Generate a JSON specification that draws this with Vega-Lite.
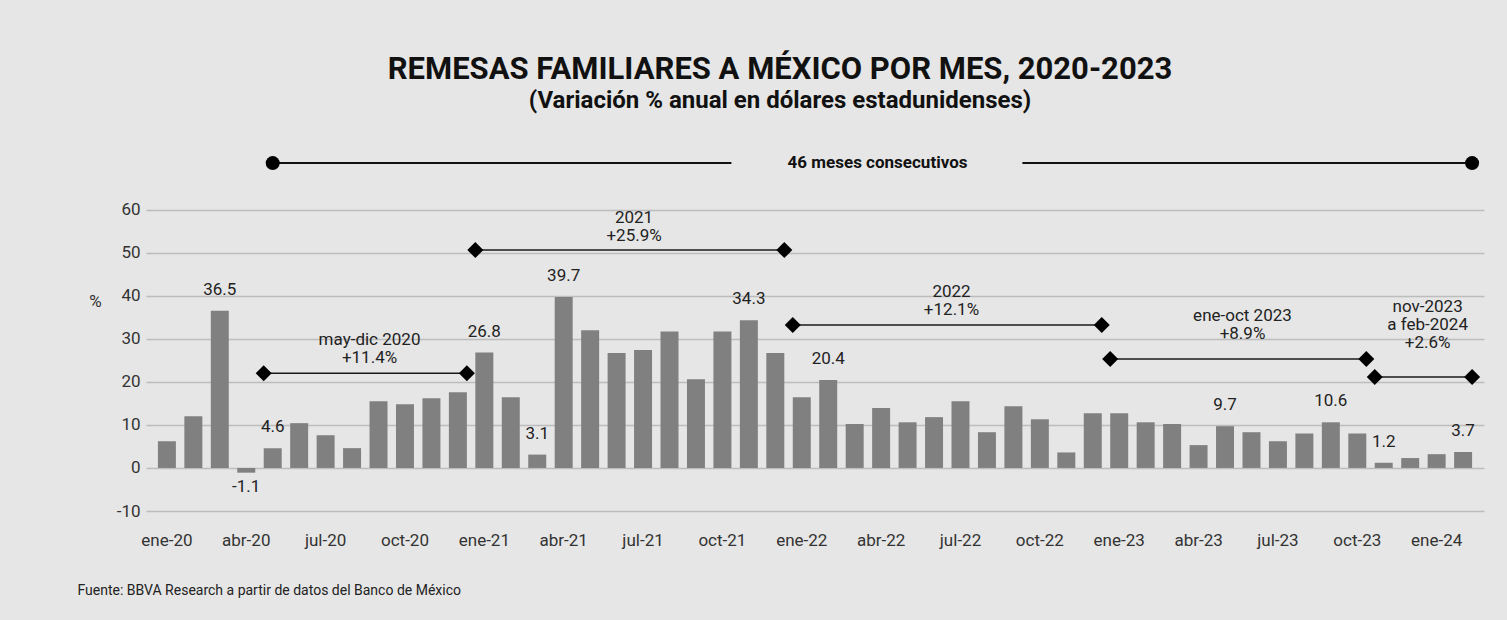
{
  "$schema": "https://vega.github.io/schema/vega-lite/v6.json",
  "width": 1338,
  "height": 366,
  "autosize": {"type": "none"},
  "padding": {"left": 146, "top": 145, "right": 23, "bottom": 109},
  "background": "#e6e6e6",
  "config": {
    "font": "Roboto",
    "view": {"stroke": null},
    "locale": {"number": {"decimal": ".", "thousands": ",", "grouping": [3], "currency": ["$", ""], "minus": "-"}}
  },
  "title": {
    "text": "REMESAS FAMILIARES A MÉXICO POR MES, 2020-2023",
    "subtitle": "(Variación % anual en dólares estadunidenses)",
    "anchor": "middle",
    "frame": "group",
    "dx": -35,
    "offset": 31,
    "font": "Roboto",
    "fontSize": 31,
    "fontWeight": "bold",
    "color": "#111111",
    "subtitleFont": "Roboto",
    "subtitleFontSize": 24,
    "subtitleFontWeight": "bold",
    "subtitleColor": "#111111",
    "subtitlePadding": 3
  },
  "data": {
    "values": [
      {"mes": "ene-20", "valor": 6.2, "rotulo": false},
      {"mes": "feb-20", "valor": 12.0, "rotulo": false},
      {"mes": "mar-20", "valor": 36.5, "rotulo": true},
      {"mes": "abr-20", "valor": -1.1, "rotulo": true},
      {"mes": "may-20", "valor": 4.6, "rotulo": true},
      {"mes": "jun-20", "valor": 10.4, "rotulo": false},
      {"mes": "jul-20", "valor": 7.6, "rotulo": false},
      {"mes": "ago-20", "valor": 4.6, "rotulo": false},
      {"mes": "sep-20", "valor": 15.5, "rotulo": false},
      {"mes": "oct-20", "valor": 14.8, "rotulo": false},
      {"mes": "nov-20", "valor": 16.2, "rotulo": false},
      {"mes": "dic-20", "valor": 17.6, "rotulo": false},
      {"mes": "ene-21", "valor": 26.8, "rotulo": true},
      {"mes": "feb-21", "valor": 16.4, "rotulo": false},
      {"mes": "mar-21", "valor": 3.1, "rotulo": true},
      {"mes": "abr-21", "valor": 39.7, "rotulo": true},
      {"mes": "may-21", "valor": 32.0, "rotulo": false},
      {"mes": "jun-21", "valor": 26.7, "rotulo": false},
      {"mes": "jul-21", "valor": 27.4, "rotulo": false},
      {"mes": "ago-21", "valor": 31.7, "rotulo": false},
      {"mes": "sep-21", "valor": 20.6, "rotulo": false},
      {"mes": "oct-21", "valor": 31.7, "rotulo": false},
      {"mes": "nov-21", "valor": 34.3, "rotulo": true},
      {"mes": "dic-21", "valor": 26.7, "rotulo": false},
      {"mes": "ene-22", "valor": 16.4, "rotulo": false},
      {"mes": "feb-22", "valor": 20.4, "rotulo": true},
      {"mes": "mar-22", "valor": 10.2, "rotulo": false},
      {"mes": "abr-22", "valor": 13.9, "rotulo": false},
      {"mes": "may-22", "valor": 10.6, "rotulo": false},
      {"mes": "jun-22", "valor": 11.8, "rotulo": false},
      {"mes": "jul-22", "valor": 15.5, "rotulo": false},
      {"mes": "ago-22", "valor": 8.3, "rotulo": false},
      {"mes": "sep-22", "valor": 14.3, "rotulo": false},
      {"mes": "oct-22", "valor": 11.3, "rotulo": false},
      {"mes": "nov-22", "valor": 3.6, "rotulo": false},
      {"mes": "dic-22", "valor": 12.7, "rotulo": false},
      {"mes": "ene-23", "valor": 12.7, "rotulo": false},
      {"mes": "feb-23", "valor": 10.6, "rotulo": false},
      {"mes": "mar-23", "valor": 10.2, "rotulo": false},
      {"mes": "abr-23", "valor": 5.3, "rotulo": false},
      {"mes": "may-23", "valor": 9.7, "rotulo": true},
      {"mes": "jun-23", "valor": 8.3, "rotulo": false},
      {"mes": "jul-23", "valor": 6.2, "rotulo": false},
      {"mes": "ago-23", "valor": 8.0, "rotulo": false},
      {"mes": "sep-23", "valor": 10.6, "rotulo": true},
      {"mes": "oct-23", "valor": 8.0, "rotulo": false},
      {"mes": "nov-23", "valor": 1.2, "rotulo": true},
      {"mes": "dic-23", "valor": 2.3, "rotulo": false},
      {"mes": "ene-24", "valor": 3.2, "rotulo": false},
      {"mes": "feb-24", "valor": 3.7, "rotulo": true}
    ]
  },
  "layer": [
    {
      "mark": {"type": "bar", "color": "#808080"},
      "encoding": {
        "x": {
          "field": "mes",
          "type": "ordinal",
          "scale": {
            "domain": ["ene-20","feb-20","mar-20","abr-20","may-20","jun-20","jul-20","ago-20","sep-20","oct-20","nov-20","dic-20","ene-21","feb-21","mar-21","abr-21","may-21","jun-21","jul-21","ago-21","sep-21","oct-21","nov-21","dic-21","ene-22","feb-22","mar-22","abr-22","may-22","jun-22","jul-22","ago-22","sep-22","oct-22","nov-22","dic-22","ene-23","feb-23","mar-23","abr-23","may-23","jun-23","jul-23","ago-23","sep-23","oct-23","nov-23","dic-23","ene-24","feb-24"],
            "paddingInner": 0.32,
            "paddingOuter": 0.45
          },
          "axis": {
            "values": ["ene-20","abr-20","jul-20","oct-20","ene-21","abr-21","jul-21","oct-21","ene-22","abr-22","jul-22","oct-22","ene-23","abr-23","jul-23","oct-23","ene-24"],
            "labelAngle": 0,
            "labelFontSize": 17,
            "labelColor": "#333333",
            "labelPadding": 21,
            "ticks": false,
            "domain": false,
            "grid": false,
            "title": "Fuente: BBVA Research a partir de datos del Banco de México",
            "titleFontSize": 14,
            "titleFontWeight": "normal",
            "titleColor": "#222222",
            "titleAnchor": "start",
            "titleAlign": "left",
            "titleBaseline": "middle",
            "titleX": -69,
            "titleY": 79
          }
        },
        "y": {
          "field": "valor",
          "type": "quantitative",
          "scale": {"domain": [-10, 75], "nice": false, "zero": false},
          "axis": {
            "values": [-10, 0, 10, 20, 30, 40, 50, 60],
            "labelFontSize": 17,
            "labelColor": "#333333",
            "labelPadding": 6,
            "ticks": false,
            "domain": false,
            "grid": true,
            "gridColor": "#bdbdbd",
            "gridWidth": 1.5,
            "title": "%",
            "titleAngle": 0,
            "titleFontSize": 17,
            "titleFontWeight": "normal",
            "titleColor": "#333333",
            "titleAlign": "center",
            "titleBaseline": "middle",
            "titleX": -51,
            "titleY": 156
          }
        }
      }
    },
    {
      "transform": [{"filter": "datum.rotulo && datum.valor >= 0"}],
      "mark": {"type": "text", "baseline": "middle", "dy": -21, "fontSize": 17, "color": "#222222", "font": "Roboto"},
      "encoding": {
        "x": {"field": "mes", "type": "ordinal"},
        "y": {"field": "valor", "type": "quantitative"},
        "text": {"field": "valor", "type": "quantitative", "format": ".1f"}
      }
    },
    {
      "transform": [{"filter": "datum.rotulo && datum.valor < 0"}],
      "mark": {"type": "text", "baseline": "middle", "dy": 14, "fontSize": 17, "color": "#222222", "font": "Roboto"},
      "encoding": {
        "x": {"field": "mes", "type": "ordinal"},
        "y": {"field": "valor", "type": "quantitative"},
        "text": {"field": "valor", "type": "quantitative", "format": ".1f"}
      }
    },
    {
      "data": {"values": [{"desde": "may-20", "corte1": "oct-21", "corte2": "sep-22", "hasta": "feb-24", "centro": "abr-22", "texto": "46 meses consecutivos"}]},
      "encoding": {"y": {"datum": 70.8, "type": "quantitative"}},
      "layer": [
        {"mark": {"type": "rule", "color": "#111111", "strokeWidth": 2}, "encoding": {"x": {"field": "desde", "type": "ordinal", "bandPosition": 0.5}, "x2": {"field": "corte1", "bandPosition": 1}}},
        {"mark": {"type": "rule", "color": "#111111", "strokeWidth": 2}, "encoding": {"x": {"field": "corte2", "type": "ordinal", "bandPosition": 1}, "x2": {"field": "hasta", "bandPosition": 1}}},
        {"mark": {"type": "point", "shape": "circle", "filled": true, "opacity": 1, "size": 196, "color": "#000000"}, "encoding": {"x": {"field": "desde", "type": "ordinal", "bandPosition": 0.5}}},
        {"mark": {"type": "point", "shape": "circle", "filled": true, "opacity": 1, "size": 196, "color": "#000000"}, "encoding": {"x": {"field": "hasta", "type": "ordinal", "bandPosition": 1}}},
        {"mark": {"type": "text", "fontSize": 17, "fontWeight": "bold", "color": "#111111", "baseline": "middle", "font": "Roboto"}, "encoding": {"x": {"field": "centro", "type": "ordinal", "bandPosition": 0.3}, "text": {"field": "texto"}}}
      ]
    },
    {
      "data": {"values": [{"desde": "may-20", "hasta": "dic-20", "centro": "sep-20", "texto": ["may-dic 2020", "+11.4%"]}]},
      "layer": [
        {"mark": {"type": "rule", "color": "#1a1a1a", "strokeWidth": 1.5}, "encoding": {"x": {"field": "desde", "type": "ordinal", "bandPosition": 0}, "x2": {"field": "hasta", "bandPosition": 1}, "y": {"datum": 22, "type": "quantitative"}}},
        {"mark": {"type": "point", "shape": "diamond", "filled": true, "opacity": 1, "size": 256, "color": "#000000"}, "encoding": {"x": {"field": "desde", "type": "ordinal", "bandPosition": 0}, "y": {"datum": 22, "type": "quantitative"}}},
        {"mark": {"type": "point", "shape": "diamond", "filled": true, "opacity": 1, "size": 256, "color": "#000000"}, "encoding": {"x": {"field": "hasta", "type": "ordinal", "bandPosition": 1}, "y": {"datum": 22, "type": "quantitative"}}},
        {"mark": {"type": "text", "fontSize": 17, "color": "#222222", "baseline": "middle", "lineHeight": 18, "font": "Roboto"}, "encoding": {"x": {"field": "centro", "type": "ordinal", "bandPosition": 0}, "y": {"datum": 29.7, "type": "quantitative"}, "text": {"field": "texto"}}}
      ]
    },
    {
      "data": {"values": [{"desde": "ene-21", "hasta": "dic-21", "centro": "jul-21", "texto": ["2021", "+25.9%"]}]},
      "layer": [
        {"mark": {"type": "rule", "color": "#1a1a1a", "strokeWidth": 1.5}, "encoding": {"x": {"field": "desde", "type": "ordinal", "bandPosition": 0}, "x2": {"field": "hasta", "bandPosition": 1}, "y": {"datum": 50.6, "type": "quantitative"}}},
        {"mark": {"type": "point", "shape": "diamond", "filled": true, "opacity": 1, "size": 256, "color": "#000000"}, "encoding": {"x": {"field": "desde", "type": "ordinal", "bandPosition": 0}, "y": {"datum": 50.6, "type": "quantitative"}}},
        {"mark": {"type": "point", "shape": "diamond", "filled": true, "opacity": 1, "size": 256, "color": "#000000"}, "encoding": {"x": {"field": "hasta", "type": "ordinal", "bandPosition": 1}, "y": {"datum": 50.6, "type": "quantitative"}}},
        {"mark": {"type": "text", "fontSize": 17, "color": "#222222", "baseline": "middle", "lineHeight": 18, "font": "Roboto"}, "encoding": {"x": {"field": "centro", "type": "ordinal", "bandPosition": 0}, "y": {"datum": 58.1, "type": "quantitative"}, "text": {"field": "texto"}}}
      ]
    },
    {
      "data": {"values": [{"desde": "ene-22", "hasta": "dic-22", "centro": "jul-22", "texto": ["2022", "+12.1%"]}]},
      "layer": [
        {"mark": {"type": "rule", "color": "#1a1a1a", "strokeWidth": 1.5}, "encoding": {"x": {"field": "desde", "type": "ordinal", "bandPosition": 0}, "x2": {"field": "hasta", "bandPosition": 1}, "y": {"datum": 33.2, "type": "quantitative"}}},
        {"mark": {"type": "point", "shape": "diamond", "filled": true, "opacity": 1, "size": 256, "color": "#000000"}, "encoding": {"x": {"field": "desde", "type": "ordinal", "bandPosition": 0}, "y": {"datum": 33.2, "type": "quantitative"}}},
        {"mark": {"type": "point", "shape": "diamond", "filled": true, "opacity": 1, "size": 256, "color": "#000000"}, "encoding": {"x": {"field": "hasta", "type": "ordinal", "bandPosition": 1}, "y": {"datum": 33.2, "type": "quantitative"}}},
        {"mark": {"type": "text", "fontSize": 17, "color": "#222222", "baseline": "middle", "lineHeight": 18, "font": "Roboto"}, "encoding": {"x": {"field": "centro", "type": "ordinal", "bandPosition": 0}, "y": {"datum": 40.8, "type": "quantitative"}, "text": {"field": "texto"}}}
      ]
    },
    {
      "data": {"values": [{"desde": "ene-23", "hasta": "oct-23", "centro": "jun-23", "texto": ["ene-oct 2023", "+8.9%"]}]},
      "layer": [
        {"mark": {"type": "rule", "color": "#1a1a1a", "strokeWidth": 1.5}, "encoding": {"x": {"field": "desde", "type": "ordinal", "bandPosition": 0}, "x2": {"field": "hasta", "bandPosition": 1}, "y": {"datum": 25.3, "type": "quantitative"}}},
        {"mark": {"type": "point", "shape": "diamond", "filled": true, "opacity": 1, "size": 256, "color": "#000000"}, "encoding": {"x": {"field": "desde", "type": "ordinal", "bandPosition": 0}, "y": {"datum": 25.3, "type": "quantitative"}}},
        {"mark": {"type": "point", "shape": "diamond", "filled": true, "opacity": 1, "size": 256, "color": "#000000"}, "encoding": {"x": {"field": "hasta", "type": "ordinal", "bandPosition": 1}, "y": {"datum": 25.3, "type": "quantitative"}}},
        {"mark": {"type": "text", "fontSize": 17, "color": "#222222", "baseline": "middle", "lineHeight": 18, "font": "Roboto"}, "encoding": {"x": {"field": "centro", "type": "ordinal", "bandPosition": 0}, "y": {"datum": 35.4, "type": "quantitative"}, "text": {"field": "texto"}}}
      ]
    },
    {
      "data": {"values": [{"desde": "nov-23", "hasta": "feb-24", "centro": "ene-24", "texto": ["nov-2023", "a feb-2024", "+2.6%"]}]},
      "layer": [
        {"mark": {"type": "rule", "color": "#1a1a1a", "strokeWidth": 1.5}, "encoding": {"x": {"field": "desde", "type": "ordinal", "bandPosition": 0}, "x2": {"field": "hasta", "bandPosition": 1}, "y": {"datum": 21.1, "type": "quantitative"}}},
        {"mark": {"type": "point", "shape": "diamond", "filled": true, "opacity": 1, "size": 256, "color": "#000000"}, "encoding": {"x": {"field": "desde", "type": "ordinal", "bandPosition": 0}, "y": {"datum": 21.1, "type": "quantitative"}}},
        {"mark": {"type": "point", "shape": "diamond", "filled": true, "opacity": 1, "size": 256, "color": "#000000"}, "encoding": {"x": {"field": "hasta", "type": "ordinal", "bandPosition": 1}, "y": {"datum": 21.1, "type": "quantitative"}}},
        {"mark": {"type": "text", "fontSize": 17, "color": "#222222", "baseline": "middle", "lineHeight": 18, "font": "Roboto"}, "encoding": {"x": {"field": "centro", "type": "ordinal", "bandPosition": 0}, "y": {"datum": 37.4, "type": "quantitative"}, "text": {"field": "texto"}}}
      ]
    }
  ]
}
